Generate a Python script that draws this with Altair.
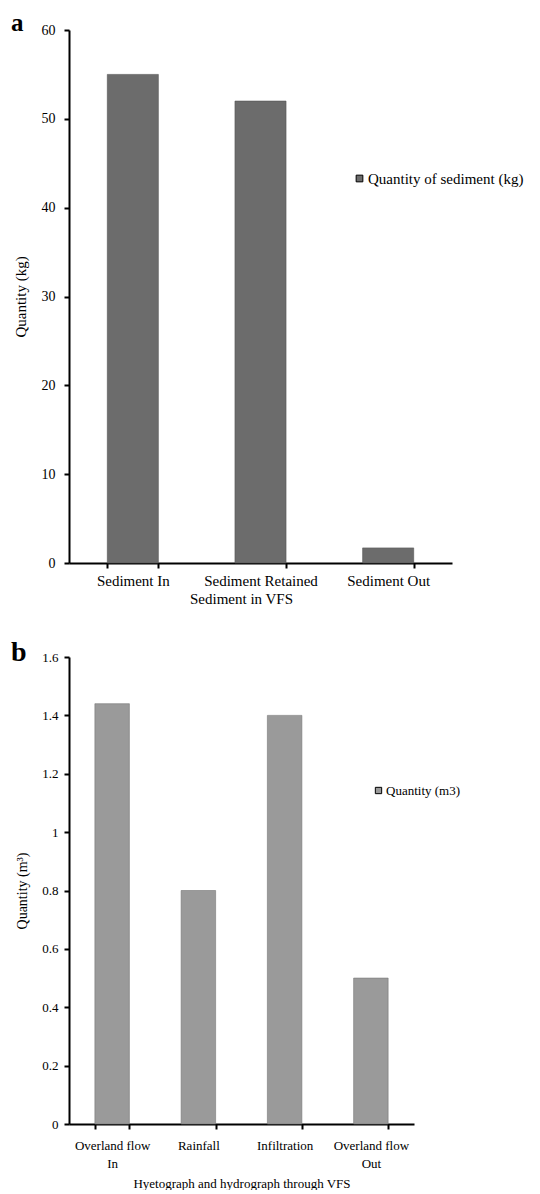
import altair as alt
import pandas as pd

FONT = "Liberation Serif"

# ---- Panel a data ----
cats_a = ["Sediment In", "Sediment Retained", "Sediment Out"]
vals_a = [55, 52, 1.7]
series_a = "Quantity of sediment (kg)"
yticks_a = [0, 10, 20, 30, 40, 50, 60]

# ---- Panel b data ----
cats_b = ["Overland flow|In", "Rainfall", "Infiltration", "Overland flow|Out"]
vals_b = [1.44, 0.8, 1.4, 0.5]
series_b = "Quantity (m3)"
yticks_b = [0, 0.2, 0.4, 0.6, 0.8, 1, 1.2, 1.4, 1.6]

df_a = pd.DataFrame({"cat": cats_a, "val": vals_a, "series": [series_a] * len(cats_a)})
df_b = pd.DataFrame({"cat": cats_b, "val": vals_b, "series": [series_b] * len(cats_b)})

fill_a = "#6c6c6c"
fill_b = "#9a9a9a"

bars_a = alt.Chart(df_a).mark_bar(stroke="#555555", strokeWidth=0.6).encode(
    x=alt.X("cat:N", sort=cats_a, title="Sediment in VFS",
            scale=alt.Scale(paddingInner=0.6, paddingOuter=0.3),
            axis=alt.Axis(labelAngle=0, tickBand="extent", labelFontSize=15,
                          titleFontSize=15, titleFontWeight="normal",
                          labelPadding=5, titlePadding=3, titleX=172)),
    y=alt.Y("val:Q", title="Quantity  (kg)", scale=alt.Scale(domain=[0, 60], nice=False),
            axis=alt.Axis(values=yticks_a, labelFontSize=14, labelPadding=9,
                          titleFontSize=15, titleFontWeight="normal", titlePadding=13,
                          grid=False)),
    color=alt.Color("series:N", scale=alt.Scale(range=[fill_a]),
                    legend=alt.Legend(title=None, orient="none", legendX=283, legendY=141,
                                      labelFontSize=15, symbolSize=45)),
)

lab_a = alt.Chart(pd.DataFrame({"t": ["a"]})).mark_text(
    font=FONT, fontSize=25, fontWeight="bold", align="left", baseline="alphabetic", color="black"
).encode(x=alt.value(-58), y=alt.value(1), text="t:N")

chart_a = alt.layer(bars_a, lab_a).properties(width=383, height=533)

bars_b = alt.Chart(df_b).mark_bar(stroke="#777777", strokeWidth=0.6).encode(
    x=alt.X("cat:N", sort=cats_b, title="Hyetograph and hydrograph through VFS",
            scale=alt.Scale(paddingInner=0.6, paddingOuter=0.3),
            axis=alt.Axis(labelAngle=0, tickBand="extent", labelFontSize=13,
                          labelExpr="split(datum.label, '|')", labelLineHeight=18,
                          titleFontSize=13, titleFontWeight="normal",
                          labelPadding=10, titlePadding=7)),
    y=alt.Y("val:Q", title="Quantity (m³)", scale=alt.Scale(domain=[0, 1.6], nice=False),
            axis=alt.Axis(values=yticks_b, format="~g", labelFontSize=13, labelPadding=6,
                          titleFontSize=14, titleFontWeight="normal", titlePadding=12,
                          grid=False)),
    color=alt.Color("series:N", scale=alt.Scale(range=[fill_b]),
                    legend=alt.Legend(title=None, orient="none", legendX=303, legendY=127,
                                      labelFontSize=13, symbolSize=40)),
)

lab_b = alt.Chart(pd.DataFrame({"t": ["b"]})).mark_text(
    font=FONT, fontSize=28, fontWeight="bold", align="left", baseline="alphabetic", color="black"
).encode(x=alt.value(-58), y=alt.value(4), text="t:N")

chart_b = alt.layer(bars_b, lab_b).properties(width=345, height=467)

chart = alt.vconcat(chart_a, chart_b, spacing=33).resolve_scale(color="independent").properties(
    padding={"left": 3, "top": 3, "right": 0, "bottom": 0},
    background="white",
).configure_view(stroke=None).configure_axis(
    domainColor="black", domainWidth=2, tickColor="black", tickWidth=2, tickSize=5,
    labelColor="black", titleColor="black", labelFont=FONT, titleFont=FONT,
).configure_legend(
    labelFont=FONT, labelColor="black", symbolType="square", symbolStrokeColor="black",
    symbolStrokeWidth=1, labelOffset=1, labelLimit=0,
)

chart.save("out.html", embed_options={"renderer": "svg", "actions": False})
